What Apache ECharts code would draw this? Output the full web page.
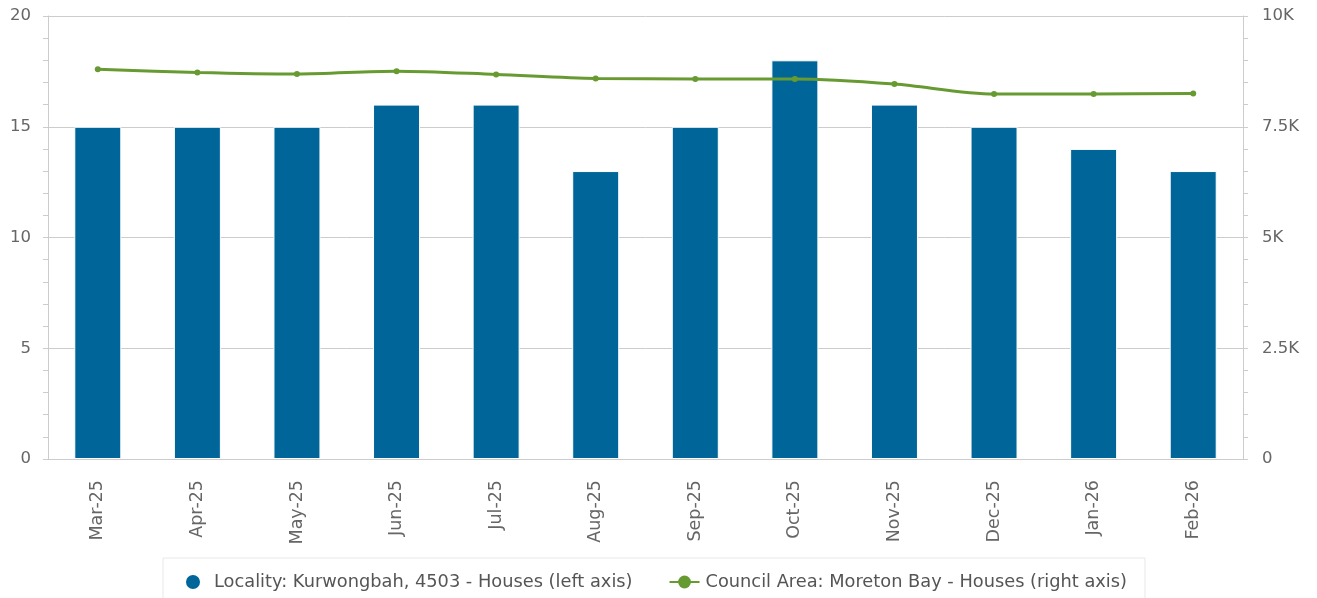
<!DOCTYPE html>
<html>
<head>
<meta charset="utf-8">
<script src="https://cdn.jsdelivr.net/npm/echarts@6/dist/echarts.min.js"></script>
<style>
  html, body { margin: 0; padding: 0; background: #fff; }
  #chart { width: 1317px; height: 598px; }
</style>
</head>
<body>
<div id="chart"></div>
<script>
const months = ['Mar-25', 'Apr-25', 'May-25', 'Jun-25', 'Jul-25', 'Aug-25', 'Sep-25', 'Oct-25', 'Nov-25', 'Dec-25', 'Jan-26', 'Feb-26']
const localityHouses = [15, 15, 15, 16, 16, 13, 15, 18, 16, 15, 14, 13]
const councilHouses = [8800, 8725, 8690, 8755, 8680, 8590, 8580, 8580, 8465, 8240, 8240, 8250]

const localityName = 'Locality: Kurwongbah, 4503 - Houses (left axis)'
const councilName = 'Council Area: Moreton Bay - Houses (right axis)'

const fontFamily = 'DejaVu Sans'
const greyAxis = '#cccccc'

const myChart = echarts.init(document.getElementById('chart'))

const option = {
  animation: false,
  textStyle: { fontFamily: fontFamily },
  grid: { left: 48, right: 74, top: 16, bottom: 139 },
  legend: {
    top: 558,
    left: 163,
    padding: [15, 18, 24, 21],
    borderColor: '#e8e8e8',
    borderWidth: 1,
    itemGap: 36,
    itemWidth: 30,
    itemHeight: 16,
    textStyle: { color: '#555', fontSize: 17.8, fontFamily: fontFamily, padding: [0, 0, 0, 1] },
    data: [
      { name: localityName, icon: 'circle' },
      { name: councilName }
    ]
  },
  xAxis: {
    type: 'category',
    data: months,
    axisLine: { lineStyle: { color: greyAxis } },
    axisTick: { alignWithLabel: true, length: 9, lineStyle: { color: '#ccd6eb' } },
    axisLabel: { rotate: 90, color: '#666', fontSize: 17.5, margin: 21, fontFamily: fontFamily }
  },
  yAxis: [
    {
      type: 'value',
      min: 0,
      max: 20,
      interval: 5,
      axisLine: { show: true, lineStyle: { color: greyAxis } },
      axisTick: { show: true, length: 5, lineStyle: { color: greyAxis } },
      minorTick: { show: true, splitNumber: 5, length: 5, lineStyle: { color: greyAxis } },
      splitLine: { lineStyle: { color: greyAxis } },
      axisLabel: { color: '#666', fontSize: 16.5, margin: 17, fontFamily: fontFamily }
    },
    {
      type: 'value',
      min: 0,
      max: 10000,
      interval: 2500,
      position: 'right',
      axisLine: { show: true, lineStyle: { color: greyAxis } },
      axisTick: { show: true, length: 5, lineStyle: { color: greyAxis } },
      minorTick: { show: true, splitNumber: 5, length: 5, lineStyle: { color: greyAxis } },
      splitLine: { show: false },
      axisLabel: {
        color: '#666',
        fontSize: 16.5,
        margin: 19,
        fontFamily: fontFamily,
        formatter: function (v) {
          return v === 0 ? '0' : (v / 1000) + 'K'
        }
      }
    }
  ],
  series: [
    {
      name: localityName,
      type: 'bar',
      yAxisIndex: 0,
      data: localityHouses,
      barWidth: 47,
      itemStyle: { color: '#006699', borderColor: '#ffffff', borderWidth: 1 }
    },
    {
      name: councilName,
      type: 'line',
      yAxisIndex: 1,
      data: councilHouses,
      smooth: 0.3,
      symbol: 'circle',
      symbolSize: 6,
      itemStyle: { color: '#679b32' },
      lineStyle: { color: '#679b32', width: 3 }
    }
  ]
}

myChart.setOption(option)
</script>
</body>
</html>
